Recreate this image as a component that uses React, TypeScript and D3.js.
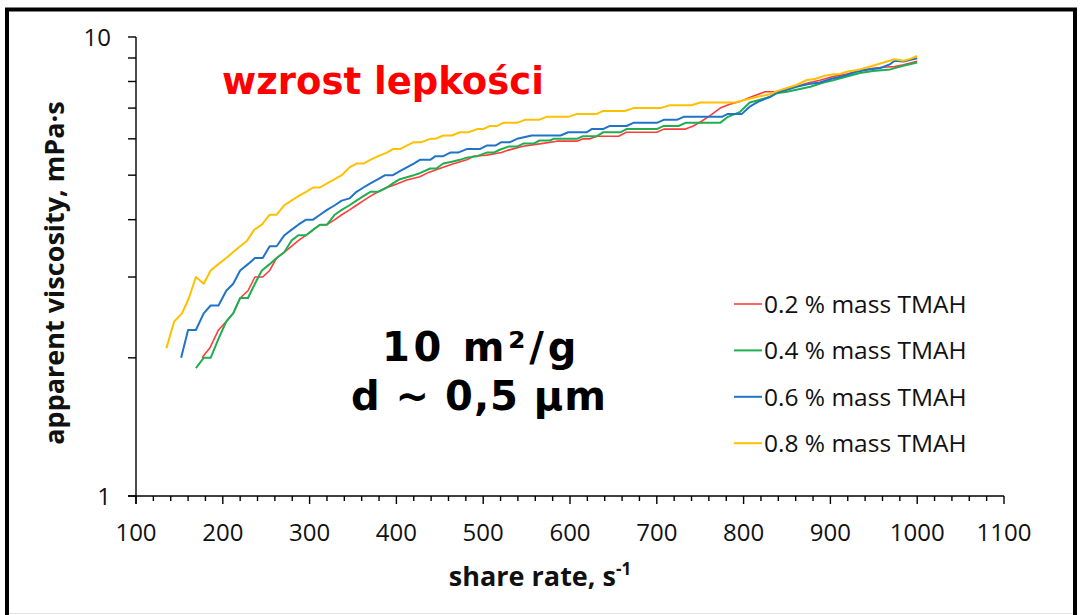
import React from 'react';
import * as d3 from 'd3';

// ---- data: [shear rate (1/s), apparent viscosity (mPa·s)] ----
const tmah02: [number, number][] = [
  [176, 2.0], [185, 2.1], [195, 2.3], [204, 2.4], [212, 2.5], [220, 2.7], [229, 2.8], [237, 3.0], [246, 3.0],
  [254, 3.1], [262, 3.3], [271, 3.4], [279, 3.5], [287, 3.6], [296, 3.7], [304, 3.8], [312, 3.9], [320, 3.9],
  [329, 4.0], [337, 4.1], [346, 4.2], [354, 4.3], [362, 4.4], [370, 4.5], [379, 4.6], [389, 4.7], [396, 4.75],
  [412, 4.88], [427, 4.96], [437, 5.07], [454, 5.2], [464, 5.28], [481, 5.4], [489, 5.5], [504, 5.53], [521, 5.6],
  [529, 5.67], [546, 5.78], [565, 5.85], [585, 5.93], [608, 5.93], [615, 6.0], [623, 6.0], [631, 6.08], [656, 6.08],
  [665, 6.2], [700, 6.2], [708, 6.3], [733, 6.3], [742, 6.4], [752, 6.56], [761, 6.73], [773, 7.0], [784, 7.14],
  [796, 7.24], [807, 7.38], [825, 7.6], [840, 7.6], [850, 7.7], [861, 7.8], [875, 7.95], [888, 8.05], [903, 8.2],
  [919, 8.3], [934, 8.45], [949, 8.55], [965, 8.6], [974, 8.62], [984, 8.7], [1000, 8.85],
];

const tmah04: [number, number][] = [
  [169, 1.9], [178, 2.0], [186, 2.0], [195, 2.2], [204, 2.4], [212, 2.5], [220, 2.7], [229, 2.7], [237, 2.9],
  [245, 3.1], [254, 3.2], [262, 3.3], [271, 3.4], [279, 3.6], [287, 3.7], [296, 3.7], [304, 3.8], [312, 3.9],
  [320, 3.9], [329, 4.1], [337, 4.2], [346, 4.3], [354, 4.4], [362, 4.5], [370, 4.6], [379, 4.6], [389, 4.7],
  [396, 4.8], [404, 4.9], [412, 4.95], [420, 5.0], [427, 5.05], [439, 5.17], [446, 5.17], [454, 5.3], [464, 5.35],
  [473, 5.4], [481, 5.46], [493, 5.5], [504, 5.6], [512, 5.6], [519, 5.68], [529, 5.77], [539, 5.77], [546, 5.86],
  [558, 5.86], [565, 5.95], [577, 5.95], [581, 6.0], [608, 6.0], [615, 6.08], [631, 6.08], [638, 6.2], [658, 6.2],
  [665, 6.3], [700, 6.3], [708, 6.4], [725, 6.4], [733, 6.5], [773, 6.5], [782, 6.7], [796, 6.87], [807, 7.2],
  [819, 7.3], [830, 7.4], [838, 7.54], [850, 7.6], [877, 7.79], [892, 7.96], [903, 8.05], [919, 8.2], [934, 8.35],
  [949, 8.43], [969, 8.5], [984, 8.66], [1000, 8.8],
];

const tmah06: [number, number][] = [
  [152, 2.0], [160, 2.3], [169, 2.3], [178, 2.5], [186, 2.6], [195, 2.6], [204, 2.8], [212, 2.9], [220, 3.1],
  [229, 3.2], [237, 3.3], [246, 3.3], [254, 3.5], [262, 3.5], [271, 3.7], [279, 3.8], [287, 3.9], [296, 4.0],
  [304, 4.0], [312, 4.1], [320, 4.2], [329, 4.3], [337, 4.4], [346, 4.45], [354, 4.6], [362, 4.7], [370, 4.8],
  [379, 4.9], [387, 5.0], [396, 5.0], [404, 5.1], [412, 5.2], [420, 5.3], [427, 5.4], [439, 5.4], [445, 5.5],
  [454, 5.5], [462, 5.6], [471, 5.6], [481, 5.7], [496, 5.7], [504, 5.8], [514, 5.8], [521, 5.9], [531, 5.9],
  [539, 6.0], [556, 6.1], [589, 6.1], [598, 6.2], [619, 6.2], [625, 6.3], [638, 6.3], [646, 6.4], [665, 6.4],
  [673, 6.5], [700, 6.5], [708, 6.6], [723, 6.6], [731, 6.7], [775, 6.7], [782, 6.8], [798, 6.8], [807, 7.05],
  [817, 7.23], [830, 7.4], [838, 7.56], [848, 7.65], [861, 7.79], [875, 7.9], [888, 7.96], [900, 8.1], [915, 8.22],
  [930, 8.4], [944, 8.5], [957, 8.55], [969, 8.73], [974, 8.88], [984, 8.84], [1000, 8.99],
];

const tmah08: [number, number][] = [
  [135, 2.1], [144, 2.4], [153, 2.5], [161, 2.7], [169, 3.0], [178, 2.9], [186, 3.1], [195, 3.2], [204, 3.3],
  [212, 3.4], [220, 3.5], [228, 3.6], [236, 3.8], [245, 3.9], [254, 4.1], [262, 4.1], [271, 4.3], [279, 4.4],
  [287, 4.5], [296, 4.6], [304, 4.7], [312, 4.7], [320, 4.8], [329, 4.9], [337, 5.0], [346, 5.2], [354, 5.3],
  [362, 5.3], [370, 5.4], [379, 5.5], [389, 5.6], [396, 5.7], [404, 5.7], [412, 5.8], [420, 5.9], [429, 5.9],
  [439, 6.0], [445, 6.0], [454, 6.1], [464, 6.1], [473, 6.2], [483, 6.2], [493, 6.3], [500, 6.3], [508, 6.4],
  [516, 6.4], [523, 6.5], [539, 6.5], [548, 6.6], [564, 6.6], [573, 6.7], [598, 6.7], [608, 6.8], [631, 6.8],
  [638, 6.9], [663, 6.9], [673, 7.0], [704, 7.0], [715, 7.1], [740, 7.1], [750, 7.2], [790, 7.2], [802, 7.3],
  [815, 7.4], [830, 7.5], [840, 7.64], [861, 7.86], [873, 8.06], [882, 8.1], [892, 8.22], [902, 8.29], [911, 8.31],
  [919, 8.4], [934, 8.5], [949, 8.66], [965, 8.84], [974, 8.94], [984, 8.88], [992, 8.96], [1000, 9.09],
];

const seriesNames = ['0.2 % mass TMAH', '0.4 % mass TMAH', '0.6 % mass TMAH', '0.8 % mass TMAH'];
const seriesColors = ['#FF3B3B', '#1FAF50', '#1F74C8', '#FFC000'];
const seriesData = [tmah02, tmah04, tmah06, tmah08];

const xMajorTicks = [100, 200, 300, 400, 500, 600, 700, 800, 900, 1000, 1100];
const xMinorTicks = d3.range(120, 1100, 20).filter((v) => v % 100 !== 0);
const yTicks = [1, 2, 3, 4, 5, 6, 7, 8, 9, 10];
const yTickLabels = [1, 10];

const W = 1081;
const H = 615;

export default function App() {
  const x = d3.scaleLinear().domain([100, 1100]).range([136, 1004]);
  const y = d3.scaleLog().domain([1, 10]).range([496, 37]);
  const line = d3
    .line<[number, number]>()
    .x((d) => x(d[0]))
    .y((d) => y(d[1]));

  const tickFont = "'Open Sans', sans-serif";

  return (
    <svg
      width={W}
      height={H}
      style={{ position: 'absolute', left: 0, top: 0, background: '#fff' }}
      xmlns="http://www.w3.org/2000/svg"
    >
      <rect x={0} y={0} width={W} height={H} fill="#fff" />
      <rect x={7} y={9.5} width={1068} height={640} fill="#fff" stroke="#000" strokeWidth={4} />
      <line x1={9} x2={1073} y1={613.5} y2={613.5} stroke="#e4e4e4" strokeWidth={1} />

      {/* axes */}
      <g stroke="#000" strokeWidth={1.4} fill="none">
        <line x1={x(100)} x2={x(100)} y1={y(10)} y2={y(1) + 8} />
        <line x1={x(100) - 8} x2={x(1100)} y1={y(1)} y2={y(1)} />
        {yTicks.map((t) => (
          <line key={'yt' + t} x1={x(100) - 8} x2={x(100)} y1={y(t)} y2={y(t)} />
        ))}
        {xMajorTicks.map((t) => (
          <line key={'xm' + t} x1={x(t)} x2={x(t)} y1={y(1)} y2={y(1) + 8} />
        ))}
        {xMinorTicks.map((t) => (
          <line key={'xn' + t} x1={x(t)} x2={x(t)} y1={y(1)} y2={y(1) + 5} />
        ))}
      </g>

      {/* tick labels */}
      <g fontFamily={tickFont} fontSize={24} fill="#111">
        {xMajorTicks.map((t) => (
          <text key={'xl' + t} x={x(t)} y={540.5} textAnchor="middle">
            {t}
          </text>
        ))}
        {yTickLabels.map((t) => (
          <text key={'yl' + t} x={111} y={y(t) + 8.8} textAnchor="end">
            {t}
          </text>
        ))}
      </g>

      {/* axis titles */}
      <text
        x={540}
        y={586}
        textAnchor="middle"
        fontFamily={tickFont}
        fontWeight="bold"
        fontSize={27}
        fill="#111"
      >
        share rate, s<tspan dy={-11} fontSize={17}>-1</tspan>
      </text>
      <text
        transform={`translate(64,273) rotate(-90)`}
        textAnchor="middle"
        fontFamily={tickFont}
        fontWeight="bold"
        fontSize={27}
        fill="#111"
      >
        apparent viscosity, mPa·s
      </text>

      {/* series */}
      <g fill="none" strokeLinejoin="round">
        {seriesData.map((d, i) => (
          <path key={'s' + i} d={line(d) || ''} stroke={seriesColors[i]} strokeWidth={i === 0 ? 1.6 : 2} />
        ))}
      </g>

      {/* legend */}
      <g fontFamily={tickFont} fontSize={24.5} fill="#111">
        {seriesNames.map((n, i) => {
          const cy = 304 + i * 46.4;
          return (
            <g key={'lg' + i}>
              <line x1={734} x2={762} y1={cy} y2={cy} stroke={seriesColors[i]} strokeWidth={i === 0 ? 1.6 : 2} />
              <text x={764} y={cy + 9}>
                {n}
              </text>
            </g>
          );
        })}
      </g>

      {/* annotations */}
      <text x={222} y={94} fontFamily="'DejaVu Sans', sans-serif" fontWeight="bold" fontSize={37} fill="#FF0000">
        wzrost lepkości
      </text>
      <g fontFamily="'DejaVu Sans', sans-serif" fontWeight="bold" fontSize={40} fill="#000" textAnchor="middle">
        <text x={481} y={361} letterSpacing={3.7}>
          10 m²/g
        </text>
        <text x={479} y={410} letterSpacing={1}>
          d ~ 0,5 μm
        </text>
      </g>
    </svg>
  );
}
